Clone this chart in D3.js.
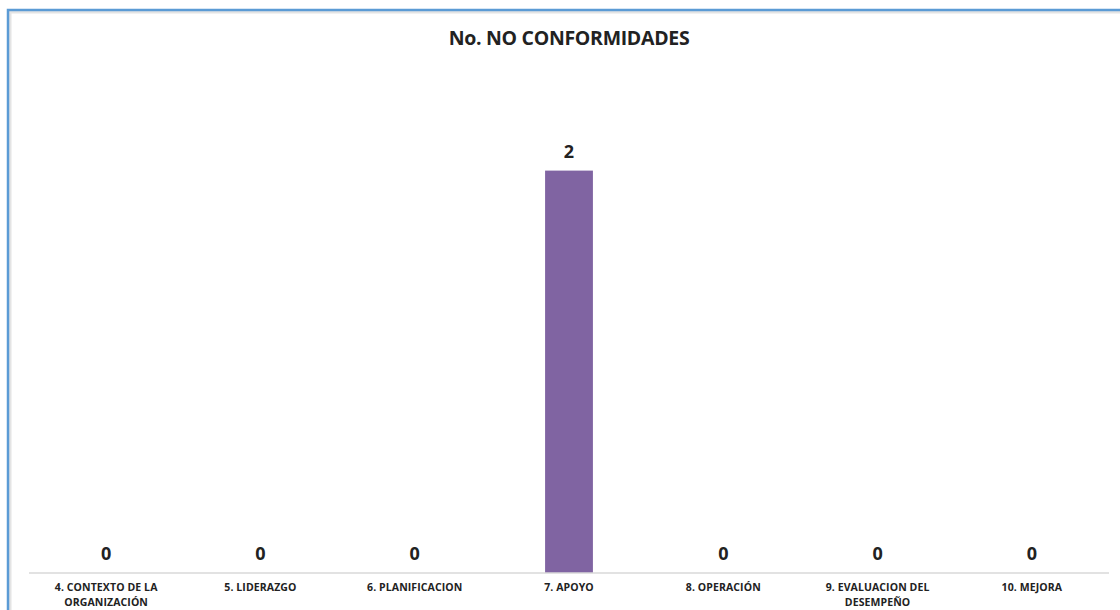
<!DOCTYPE html>
<html>
<head>
<meta charset="utf-8">
<script src="https://cdn.jsdelivr.net/npm/d3@7"></script>
<style>
  body { margin: 0; background: #fff; }
  svg { display: block; font-family: "Open Sans", "Liberation Sans", sans-serif; }
</style>
</head>
<body>
<div id="chart"></div>
<script>
const categories = ["4. CONTEXTO DE LA ORGANIZACIÓN", "5. LIDERAZGO", "6. PLANIFICACION",
  "7. APOYO", "8. OPERACIÓN", "9. EVALUACION DEL DESEMPEÑO", "10. MEJORA"];
const values = [0, 0, 0, 2, 0, 0, 0];
const title = "No. NO CONFORMIDADES";

const width = 1120,
      height = 610;

const svg = d3.select("#chart")
  .append("svg")
    .attr("width", width)
    .attr("height", height);

// chart frame (runs off the right and bottom edges)
svg.append("rect")
    .attr("x", 10).attr("y", 12)
    .attr("width", 1130).attr("height", 620)
    .attr("fill", "none")
    .attr("stroke", "#e4e4e4")
    .attr("stroke-width", 3);
svg.append("rect")
    .attr("x", 8).attr("y", 10)
    .attr("width", 1130).attr("height", 620)
    .attr("fill", "none")
    .attr("stroke", "#5b9bd5")
    .attr("stroke-width", 2.5);

const margin = {left: 29, right: 11, top: 70, bottom: 37};

const x = d3.scaleBand()
    .domain(categories)
    .range([margin.left, width - margin.right])
    .paddingInner(0.69)
    .paddingOuter(0.345);

const y = d3.scaleLinear()
    .domain([0, 2.5])
    .range([height - margin.bottom, margin.top]);

svg.append("text")
    .attr("x", 569)
    .attr("y", 45)
    .attr("text-anchor", "middle")
    .attr("font-weight", "bold")
    .attr("font-size", 19.5)
    .attr("letter-spacing", -0.3)
    .attr("fill", "#222")
    .text(title);

const data = categories.map((c, i) => ({cat: c, val: values[i]}));

svg.append("g")
  .selectAll("rect")
  .data(data)
  .join("rect")
    .attr("x", d => x(d.cat))
    .attr("y", d => y(d.val))
    .attr("width", x.bandwidth())
    .attr("height", d => y(0) - y(d.val))
    .attr("fill", "#8064a2");

// baseline
svg.append("line")
    .attr("x1", margin.left).attr("x2", width - margin.right)
    .attr("y1", y(0)).attr("y2", y(0))
    .attr("stroke", "#d9d9d9")
    .attr("stroke-width", 1.5);

// value labels
svg.append("g")
  .selectAll("text")
  .data(data)
  .join("text")
    .attr("x", d => x(d.cat) + x.bandwidth() / 2)
    .attr("y", d => y(d.val) - 13)
    .attr("text-anchor", "middle")
    .attr("font-weight", "bold")
    .attr("font-size", 18)
    .attr("fill", "#222")
    .text(d => d.val);

// category labels, wrapped on two lines
function splitLabel(s) {
  const words = s.split(" ");
  if (s.length <= 20) return [s];
  const lines = [];
  let cur = "";
  words.forEach(w => {
    if ((cur + " " + w).trim().length > 18 && cur) { lines.push(cur); cur = w; }
    else cur = (cur + " " + w).trim();
  });
  lines.push(cur);
  return lines;
}

const labels = svg.append("g")
  .selectAll("text")
  .data(categories)
  .join("text")
    .attr("x", d => x(d) + x.bandwidth() / 2)
    .attr("y", y(0) + 18)
    .attr("text-anchor", "middle")
    .attr("font-weight", "bold")
    .attr("font-size", 10.5)
    .attr("letter-spacing", 0.1)
    .attr("fill", "#222");

labels.each(function(d) {
  const t = d3.select(this);
  splitLabel(d).forEach((line, i) => {
    t.append("tspan")
      .attr("x", x(d) + x.bandwidth() / 2)
      .attr("dy", i === 0 ? 0 : 15)
      .text(line);
  });
});
</script>
</body>
</html>
